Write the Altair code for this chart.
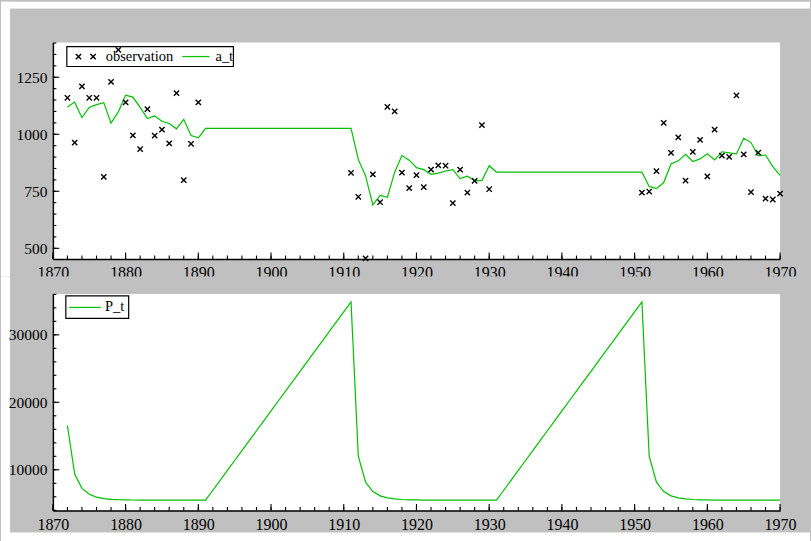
import altair as alt
import pandas as pd

# ---------------- data ----------------
state_years = list(range(1872, 1971))

a_t = [1120.0, 1140.9, 1072.8, 1117.3, 1130.0, 1138.5, 1048.9, 1098.1, 1171.4, 1163.0,
       1118.0, 1069.1, 1080.0, 1057.0, 1047.1, 1023.8, 1065.5, 994.3, 984.6,
       1026.1, 1026.1, 1026.1, 1026.1, 1026.1, 1026.1, 1026.1, 1026.1, 1026.1, 1026.1,
       1026.1, 1026.1, 1026.1, 1026.1, 1026.1, 1026.1, 1026.1, 1026.1, 1026.1, 1026.1, 1026.1,
       889.9, 817.3, 690.6, 731.9, 723.3, 833.9, 906.6, 886.4, 853.5, 844.8,
       824.3, 829.8, 838.9, 845.1, 805.8, 816.3, 797.0, 796.7, 861.7,
       834.3, 834.3, 834.3, 834.3, 834.3, 834.3, 834.3, 834.3, 834.3, 834.3,
       834.3, 834.3, 834.3, 834.3, 834.3, 834.3, 834.3, 834.3, 834.3, 834.3, 834.3,
       771.3, 761.4, 788.3, 869.3, 883.4, 912.0, 880.6, 892.1, 914.4, 887.8,
       923.2, 918.6, 913.9, 982.3, 963.5, 905.4, 909.0, 858.0, 819.5]

P_t = [16568, 9369, 7251, 6368, 5948, 5736, 5626, 5568, 5537, 5520,
       5512, 5507, 5504, 5503, 5502, 5502, 5501, 5501, 5501,
       5501, 6970, 8439, 9908, 11377, 12847, 14316, 15785, 17254, 18723,
       20192, 21661, 23130, 24599, 26068, 27538, 29007, 30476, 31945, 33414, 34883,
       12008, 8157, 6765, 6141, 5835, 5678, 5595, 5551, 5528, 5516,
       5509, 5505, 5503, 5502, 5502, 5501, 5501, 5501, 5501,
       5501, 6970, 8439, 9908, 11377, 12847, 14316, 15785, 17254, 18723,
       20192, 21661, 23130, 24599, 26068, 27538, 29007, 30476, 31945, 33414, 34883,
       12008, 8157, 6765, 6141, 5835, 5678, 5595, 5551, 5528, 5516,
       5509, 5505, 5503, 5502, 5502, 5501, 5501, 5501, 5501]

obs_years = ([1872, 1873, 1874, 1875, 1876, 1877, 1878, 1879, 1880, 1881,
              1882, 1883, 1884, 1885, 1886, 1887, 1888, 1889, 1890]
             + [1911, 1912, 1913, 1914, 1915, 1916, 1917, 1918, 1919, 1920,
                1921, 1922, 1923, 1924, 1925, 1926, 1927, 1928, 1929, 1930]
             + [1951, 1952, 1953, 1954, 1955, 1956, 1957, 1958, 1959, 1960,
                1961, 1962, 1963, 1964, 1965, 1966, 1967, 1968, 1969, 1970])
obs_values = [1160, 963, 1210, 1160, 1160, 813, 1230, 1370, 1140, 995,
              935, 1110, 994, 1020, 960, 1180, 799, 958, 1140,
              831, 726, 456, 824, 702, 1120, 1100, 832, 764, 821,
              768, 845, 864, 862, 698, 845, 744, 796, 1040, 759,
              744, 749, 838, 1050, 918, 986, 797, 923, 975, 815,
              1020, 906, 901, 1170, 912, 746, 919, 718, 714, 740]

x_major = [1870, 1880, 1890, 1900, 1910, 1920, 1930, 1940, 1950, 1960, 1970]
x_minor = [y for y in range(1870, 1971, 2)]
ytop_major = [500, 750, 1000, 1250]
ytop_minor = [v for v in range(500, 1401, 50)]
ybot_major = [10000, 20000, 30000]
ybot_minor = [v for v in range(4000, 36001, 2000)]

# ---------------- style ----------------
W, H = 729, 217
GAP = 35
GRAY = "#c0c0c0"
GREEN = "#00c000"
FONT = "Liberation Serif"
XSHAPE = "M-1,-1L1,1M-1,1L1,-1"

df_a = pd.DataFrame({"year": state_years, "a": a_t})
df_p = pd.DataFrame({"year": state_years, "P": P_t})
df_obs = pd.DataFrame({"year": obs_years, "y": obs_values})
one = pd.DataFrame({"k": [0]})

xscale = alt.Scale(domain=[1870, 1970], nice=False, zero=False)
xaxis = alt.Axis(values=x_major, format="d", title=None, zindex=2)


def xenc(field):
    return alt.X(field, scale=xscale, axis=xaxis)


def rect(color, x1, x2, y1, y2):
    return alt.Chart(one).mark_rect(color=color).encode(
        x=alt.value(x1), x2=alt.value(x2), y=alt.value(y1), y2=alt.value(y2))


def panel(yscale, yaxis, ymaj, ymin, data_layers, legend_layers, frame):
    deco = [rect(*f) for f in frame]
    white = rect("white", 0, W, 0, H)

    def yenc(field):
        return alt.Y(field, scale=yscale, axis=yaxis)

    xt1 = alt.Chart(pd.DataFrame({"v": x_major})).mark_rule(color="black", strokeWidth=1.1).encode(
        x=xenc("v:Q"), y=alt.value(H), y2=alt.value(H - 6.5))
    xt2 = alt.Chart(pd.DataFrame({"v": x_minor})).mark_rule(color="black", strokeWidth=1.1).encode(
        x=xenc("v:Q"), y=alt.value(H), y2=alt.value(H - 3.5))
    yt1 = alt.Chart(pd.DataFrame({"v": ymaj})).mark_rule(color="black", strokeWidth=1.1).encode(
        y=yenc("v:Q"), x=alt.value(0), x2=alt.value(6.5))
    yt2 = alt.Chart(pd.DataFrame({"v": ymin})).mark_rule(color="black", strokeWidth=1.1).encode(
        y=yenc("v:Q"), x=alt.value(0), x2=alt.value(3.5))
    layers = (deco + [white, xt2, xt1, yt2, yt1]
              + [l(yenc) for l in data_layers[:1]]
              + legend_layers
              + [l(yenc) for l in data_layers[1:]])
    return alt.layer(*layers).properties(width=W, height=H)


# ---------- top panel ----------
yscale_top = alt.Scale(domain=[453, 1402], nice=False, zero=False)
yaxis_top = alt.Axis(values=ytop_major, format="d", title=None, zindex=2)

line_a = lambda yenc: alt.Chart(df_a).mark_line(color=GREEN, strokeWidth=1.2).encode(
    x=xenc("year:Q"), y=yenc("a:Q"))
pts = lambda yenc: alt.Chart(df_obs).mark_point(
    shape=XSHAPE, size=28, color="black", strokeWidth=1.4, opacity=1, filled=False).encode(
    x=xenc("year:Q"), y=yenc("y:Q"))

LEG_Y = 14
leg_top = [
    alt.Chart(one).mark_rect(fill="white", stroke="black", strokeWidth=1.2).encode(
        x=alt.value(14), x2=alt.value(181), y=alt.value(4), y2=alt.value(24)),
    alt.Chart(one).mark_point(shape=XSHAPE, size=28, color="black", strokeWidth=1.4,
                              opacity=1, filled=False).encode(x=alt.value(25.7), y=alt.value(LEG_Y)),
    alt.Chart(one).mark_point(shape=XSHAPE, size=28, color="black", strokeWidth=1.4,
                              opacity=1, filled=False).encode(x=alt.value(40.3), y=alt.value(LEG_Y)),
    alt.Chart(one).mark_text(align="left", baseline="middle", font=FONT, fontSize=14.5,
                             color="black").encode(x=alt.value(53), y=alt.value(LEG_Y),
                                                   text=alt.value("observation")),
    alt.Chart(one).mark_rule(color=GREEN, strokeWidth=1.2).encode(
        x=alt.value(129.7), x2=alt.value(157), y=alt.value(LEG_Y)),
    alt.Chart(one).mark_text(align="left", baseline="middle", font=FONT, fontSize=14.5,
                             color="black").encode(x=alt.value(163), y=alt.value(LEG_Y),
                                                   text=alt.value("a_t")),
]

HALF = H + GAP / 2
top = panel(yscale_top, yaxis_top, ytop_major, ytop_minor, [line_a, pts], leg_top,
            [("white", -52, -43, -41, HALF),     # left page margin
             ("white", -52, 759, -41, -34),      # top page margin
             (GRAY, -43, 759, -34, HALF)])       # gray frame

# ---------- bottom panel ----------
yscale_bot = alt.Scale(domain=[3980, 36060], nice=False, zero=False)
yaxis_bot = alt.Axis(values=ybot_major, format="d", title=None, zindex=2)

line_p = lambda yenc: alt.Chart(df_p).mark_line(color=GREEN, strokeWidth=1.2).encode(
    x=xenc("year:Q"), y=yenc("P:Q"))

LEG_Y2 = 13.5
leg_bot = [
    alt.Chart(one).mark_rect(fill="white", stroke="black", strokeWidth=1.2).encode(
        x=alt.value(13), x2=alt.value(76), y=alt.value(2), y2=alt.value(24.5)),
    alt.Chart(one).mark_rule(color=GREEN, strokeWidth=1.2).encode(
        x=alt.value(16.3), x2=alt.value(48), y=alt.value(LEG_Y2)),
    alt.Chart(one).mark_text(align="left", baseline="middle", font=FONT, fontSize=14.5,
                             color="black").encode(x=alt.value(52.3), y=alt.value(LEG_Y2),
                                                   text=alt.value("P_t")),
]

bottom = panel(yscale_bot, yaxis_bot, ybot_major, ybot_minor, [line_p], leg_bot,
               [("white", -52, -43, -GAP / 2, 248),   # left page margin
                ("white", -52, 759, 239, 248),        # bottom page margin
                (GRAY, -43, 759, -GAP / 2, 239)])     # gray frame

chart = alt.vconcat(top, bottom, spacing=GAP, bounds="flush").properties(
    background=GRAY,
    padding={"left": 0, "top": 0, "right": 0, "bottom": 0},
).configure_axis(
    domainColor="black", domainWidth=1.5, ticks=False, tickSize=0, grid=False,
    labelFont=FONT, labelColor="black", labelPadding=6,
    labelFlush=False, labelOverlap=False,
).configure_axisX(labelFontSize=16).configure_axisY(labelFontSize=15.5).configure_view(
    stroke="transparent")

chart.save("out.html", embed_options={"renderer": "svg", "actions": False})
